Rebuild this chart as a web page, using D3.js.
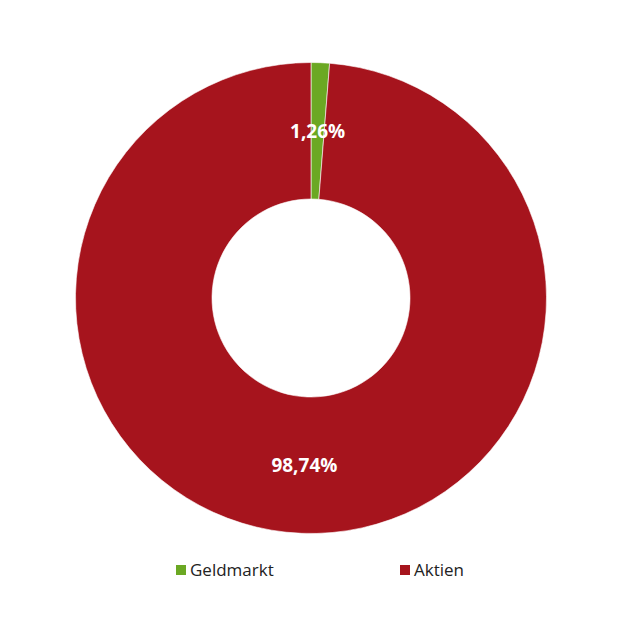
<!DOCTYPE html>
<html><head><meta charset="utf-8">
<script src="https://cdn.jsdelivr.net/npm/d3@7"></script>
<style>body{margin:0;background:#fff}svg{display:block}</style>
</head><body>
<svg id="c" width="628" height="628"></svg>
<script>
const categories = ["Geldmarkt", "Aktien"];
const values = [1.26, 98.74];
const labels = ["1,26%", "98,74%"];
const colors = ["#6ba823", "#a6141d"];

const svg = d3.select("#c");
const cx = 311, cy = 298, rOuter = 235.5, rInner = 99;
const g = svg.append("g").attr("transform", `translate(${cx},${cy})`);
const pie = d3.pie().sort(null).value(d => d)(values);
const arc = d3.arc().innerRadius(rInner).outerRadius(rOuter);
g.selectAll("path").data(pie).join("path")
  .attr("d", arc).attr("fill", (d, i) => colors[i])
  .attr("stroke", "#fff").attr("stroke-width", 0.6);
g.selectAll("text").data(pie).join("text")
  .attr("transform", d => `translate(${arc.centroid(d)})`)
  .attr("text-anchor", "middle").attr("dy", "0.35em")
  .attr("fill", "#fff").attr("font-family", "Open Sans, sans-serif")
  .attr("font-weight", "bold").attr("font-size", 19)
  .text((d, i) => labels[i]);

const legendX = d3.scalePoint().domain(categories).range([176, 400]);
const lg = svg.append("g").selectAll("g").data(categories).join("g")
  .attr("transform", d => `translate(${legendX(d)},565)`);
lg.append("rect").attr("width", 10).attr("height", 10)
  .attr("fill", (d, i) => colors[i]);
lg.append("text").attr("x", 14).attr("y", 5).attr("dy", "0.35em")
  .attr("font-family", "Open Sans, sans-serif").attr("font-size", 17)
  .attr("fill", "#222").text(d => d);
</script>
</body></html>
